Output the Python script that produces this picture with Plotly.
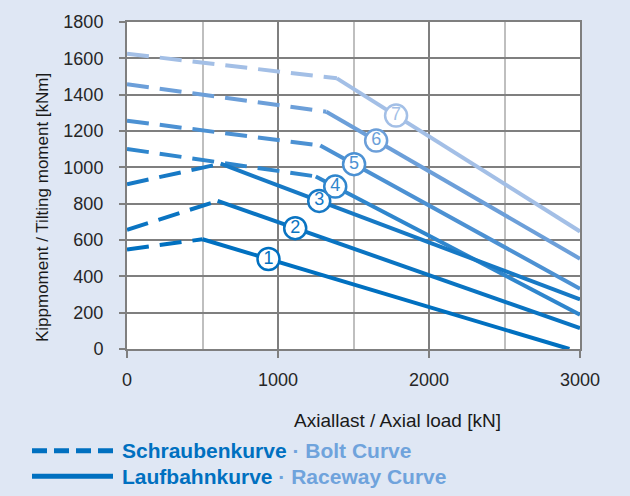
import numpy as np
import plotly.graph_objects as go

# ---------------- data ----------------
curve_ids = ["1", "2", "3", "4", "5", "6", "7"]
# bolt curve (dashed): from axial load 0 to the kink point
bolt_start_y = [548, 656, 907, 1101, 1257, 1458, 1625]
kink_x = [500, 600, 620, 1250, 1280, 1320, 1390]
kink_y = [604, 815, 1020, 950, 1120, 1306, 1490]
# raceway curve (solid): from kink point to end
end_x = [2930, 3000, 3000, 3000, 3000, 3000, 3000]
end_y = [0, 115, 273, 189, 332, 497, 647]
# label positions (axial load) along the raceway curve
label_x = [937, 1114, 1273, 1379, 1504, 1650, 1782]

x_ticks = [0, 1000, 2000, 3000]
y_ticks = [0, 200, 400, 600, 800, 1000, 1200, 1400, 1600, 1800]

x_title = "Axiallast / Axial load [kN]"
y_title = "Kippmoment / Tilting moment [kNm]"
legend_bolt = ("Schraubenkurve", "Bolt Curve")
legend_race = ("Laufbahnkurve", "Raceway Curve")

colors = ["#0070C0", "#0A74C2", "#1779C5", "#2F86CD", "#4C91D3", "#6C9FD9", "#A3BFE6"]

# ---------------- layout geometry ----------------
W, H = 630, 496
L, R, T, B = 127, 580, 15, 349
FONT = "Liberation Sans, Arial, sans-serif"
DARK = "#7F7F7F"
LIGHT = "#BFBFBF"
BG = "#DFE7F4"


def pxx(px):
    return (px - L) / (R - L)


def pxy(py):
    return (B - py) / (B - T)


fig = go.Figure()

# dashed bolt curves
for i in range(len(curve_ids) - 1, -1, -1):
    fig.add_trace(go.Scatter(
        x=[0, kink_x[i]], y=[bolt_start_y[i], kink_y[i]],
        mode="lines", line=dict(color=colors[i], width=4, dash="22px,11px"),
        hoverinfo="skip", showlegend=False))

# solid raceway curves
for i in range(len(curve_ids) - 1, -1, -1):
    fig.add_trace(go.Scatter(
        x=[kink_x[i], end_x[i]], y=[kink_y[i], end_y[i]],
        mode="lines", line=dict(color=colors[i], width=4),
        hoverinfo="skip", showlegend=False))

# circled labels
for i in range(len(curve_ids)):
    ly = float(np.interp(label_x[i], [kink_x[i], end_x[i]], [kink_y[i], end_y[i]]))
    fig.add_trace(go.Scatter(
        x=[label_x[i]], y=[ly], mode="markers+text",
        text=[curve_ids[i]], textposition="middle center",
        textfont=dict(family=FONT, size=18, color=colors[i]),
        marker=dict(symbol="circle", size=22, color="white",
                    line=dict(color=colors[i], width=2.5)),
        hoverinfo="skip", showlegend=False, cliponaxis=False))

fig.update_layout(
    width=W, height=H,
    margin=dict(l=L, r=W - R, t=T, b=H - B),
    paper_bgcolor=BG,
    plot_bgcolor="white",
    showlegend=False,
    font=dict(family=FONT, color="#262626"),
)

fig.update_xaxes(
    range=[0, 3000], tickvals=x_ticks, ticktext=[str(v) for v in x_ticks],
    showgrid=True, gridcolor=DARK, gridwidth=2,
    minor=dict(dtick=500, showgrid=True, gridcolor=LIGHT, gridwidth=2, ticks=""),
    showline=True, linecolor=DARK, linewidth=2, mirror=True,
    ticks="outside", ticklen=7, tickwidth=2, tickcolor=DARK,
    tickfont=dict(family=FONT, size=18, color="#262626"),
    ticklabelstandoff=6, zeroline=False, fixedrange=True,
)
fig.update_yaxes(
    range=[0, 1800], tickvals=y_ticks, ticktext=[str(v) for v in y_ticks],
    showgrid=True, gridcolor=DARK, gridwidth=2,
    showline=True, linecolor=DARK, linewidth=2, mirror=True,
    ticks="outside", ticklen=6, tickwidth=2, tickcolor=DARK,
    tickfont=dict(family=FONT, size=18, color="#262626"),
    ticklabelstandoff=12, zeroline=False, fixedrange=True,
)

# axis titles
fig.add_annotation(x=pxx(397), y=pxy(422), xref="paper", yref="paper",
                   text=x_title, showarrow=False, xanchor="center", yanchor="middle",
                   font=dict(family=FONT, size=19, color="#1A1A1A"))
fig.add_annotation(x=pxx(42), y=pxy(205), xref="paper", yref="paper",
                   text=y_title, showarrow=False, textangle=-90,
                   xanchor="center", yanchor="middle",
                   font=dict(family=FONT, size=17, color="#1A1A1A"))

# custom legend
fig.add_shape(type="line", xref="paper", yref="paper",
              x0=pxx(32), x1=pxx(113), y0=pxy(453), y1=pxy(453),
              line=dict(color="#0070C0", width=5, dash="15px,7px"))
fig.add_shape(type="line", xref="paper", yref="paper",
              x0=pxx(32), x1=pxx(113), y0=pxy(479), y1=pxy(479),
              line=dict(color="#0070C0", width=5))
for text, py in [(legend_bolt, 453), (legend_race, 479)]:
    fig.add_annotation(
        x=pxx(120), y=pxy(py), xref="paper", yref="paper", showarrow=False,
        xanchor="left", yanchor="middle",
        text=("<b><span style='color:#0070C0'>%s</span>"
              "<span style='color:#6FA3DC'> · %s</span></b>") % text,
        font=dict(family=FONT, size=21))

fig.write_html(
    "out.html",
    config={"displayModeBar": False, "staticPlot": True},
    post_script="document.body.style.margin='0';"
                "document.body.style.overflow='hidden';"
                "document.body.style.background='%s';" % BG,
)
